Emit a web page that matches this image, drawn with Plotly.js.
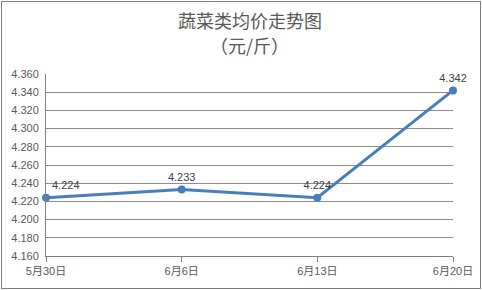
<!DOCTYPE html>
<html>
<head>
<meta charset="utf-8">
<script src="https://cdn.plot.ly/plotly-3.0.1.min.js"></script>
<style>
html,body{margin:0;padding:0;background:#fff;}
#wrap{position:relative;width:482px;height:290px;}
#chart{position:absolute;left:0;top:0;width:482px;height:290px;}
#frame{position:absolute;left:1px;top:1px;width:478px;height:286px;border:1px solid #7f7f7f;pointer-events:none;}
</style>
</head>
<body>
<div id="wrap"><div id="chart"></div><div id="frame"></div></div>
<script>
const categories = ["5月30日", "6月6日", "6月13日", "6月20日"];
const prices = [4.224, 4.233, 4.224, 4.342];
const priceLabels = ["4.224", "4.233", "4.224", "4.342"];
const labelPositions = ["top right", "top center", "top center", "top center"];
const yTicks = [4.160, 4.180, 4.200, 4.220, 4.240, 4.260, 4.280, 4.300, 4.320, 4.340, 4.360];
const titleLines = ["蔬菜类均价走势图", "（元/斤）"];

const xIdx = categories.map((c, i) => i);

const trace = {
  x: xIdx,
  y: prices,
  type: 'scatter',
  mode: 'lines+markers+text',
  text: priceLabels,
  textposition: labelPositions,
  textfont: {family: 'Liberation Sans, Arial, sans-serif', size: 11, color: '#404040'},
  line: {color: '#4a7ebb', width: 3},
  marker: {color: '#4a7ebb', size: 8},
  cliponaxis: false,
  hoverinfo: 'none'
};

const titleFont = {family: 'Noto Sans CJK SC, sans-serif', size: 18, color: '#595959'};

const layout = {
  width: 482, height: 290,
  margin: {l: 46, r: 29, t: 74, b: 34},
  paper_bgcolor: '#fff', plot_bgcolor: '#fff',
  showlegend: false,
  annotations: [
    {text: titleLines[0], xref: 'paper', yref: 'paper', x: 0.5, y: (290 - 34 - 20) / 182,
     xanchor: 'center', yanchor: 'middle', showarrow: false, font: titleFont},
    {text: titleLines[1], xref: 'paper', yref: 'paper', x: 0.5, y: (290 - 34 - 45) / 182,
     xanchor: 'center', yanchor: 'middle', showarrow: false, font: titleFont}
  ],
  xaxis: {
    type: 'linear',
    range: [0, 3],
    tickvals: xIdx,
    ticktext: categories,
    showgrid: false,
    zeroline: false,
    showline: true, linecolor: '#7f7f7f', linewidth: 1,
    ticks: 'outside', ticklen: 5, tickcolor: '#7f7f7f',
    tickfont: {family: 'Liberation Sans, Noto Sans CJK SC, sans-serif', size: 11, color: '#595959'},
    fixedrange: true
  },
  yaxis: {
    range: [4.160, 4.360],
    tickvals: yTicks,
    ticktext: yTicks.map(v => v.toFixed(3)),
    showgrid: true, gridcolor: '#8c8c8c', gridwidth: 1,
    zeroline: false,
    showline: true, linecolor: '#7f7f7f', linewidth: 1,
    ticks: '',
    ticklabelstandoff: 4,
    tickfont: {family: 'Liberation Sans, sans-serif', size: 11, color: '#595959'},
    fixedrange: true
  }
};

Plotly.newPlot('chart', [trace], layout, {displayModeBar: false, staticPlot: true});
</script>
</body>
</html>
